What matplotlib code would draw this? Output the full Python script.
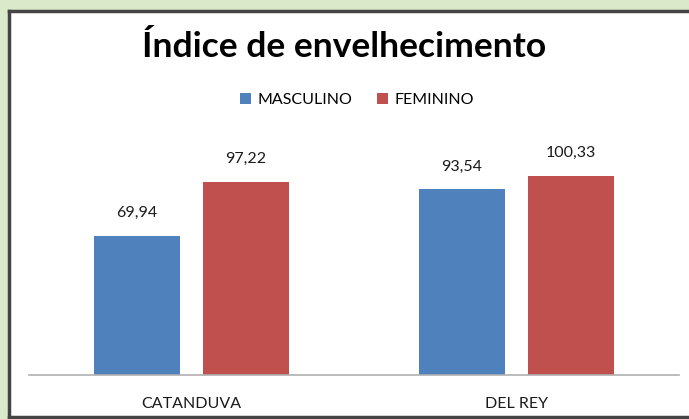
import matplotlib
matplotlib.use("Agg")
import matplotlib.pyplot as plt
from matplotlib.patches import Rectangle
from matplotlib.lines import Line2D

categories = ["CATANDUVA", "DEL REY"]
masculino = [69.94, 93.54]
feminino = [97.22, 100.33]
labels_m = ["69,94", "93,54"]
labels_f = ["97,22", "100,33"]
series_names = ["MASCULINO", "FEMININO"]

W, H = 689, 419
fig = plt.figure(figsize=(W/100, H/100), dpi=100)
fig.patch.set_facecolor("#d9e9c9")

# chart frame
fx0, fy_top, fy_bot = 9/W, 1-11/H, 2/H
frame = Rectangle((fx0, fy_bot), 1.0, fy_top-fy_bot, transform=fig.transFigure,
                  facecolor="white", edgecolor="none", zorder=-5)
fig.patches.append(frame)
for xs, ys in [([fx0, 1.0], [fy_top, fy_top]), ([fx0, fx0], [fy_bot, fy_top]),
               ([fx0, 1.0], [fy_bot, fy_bot])]:
    fig.lines.append(Line2D(xs, ys, transform=fig.transFigure, color="#444444",
                            linewidth=2.5, zorder=-4))

left, right, bottom, top = 29, 679, 375, 120
ax = fig.add_axes([left/W, 1-bottom/H, (right-left)/W, (bottom-top)/H])
ax.set_zorder(2)
ax.set_facecolor("none")
ymax = (bottom-top)/1.985
ax.set_ylim(0, ymax)
ax.set_xlim(-0.5, 1.5)

font = "Lato"
x = range(len(categories))
off, w = 0.168, 0.266
bm = ax.bar([i-off for i in x], masculino, w, color="#4f81bd", label=series_names[0])
bf = ax.bar([i+off for i in x], feminino, w, color="#c0504d", label=series_names[1])
for rect, t in zip(bm, labels_m):
    ax.text(rect.get_x()+rect.get_width()/2, rect.get_height()+8, t,
            ha="center", va="bottom", fontsize=11.5, family=font, color="#1a1a1a")
for rect, t in zip(bf, labels_f):
    ax.text(rect.get_x()+rect.get_width()/2, rect.get_height()+8, t,
            ha="center", va="bottom", fontsize=11.5, family=font, color="#1a1a1a")

ax.set_xticks(list(x))
ax.set_xticklabels(categories, fontsize=11.5, family=font, color="#1a1a1a")
ax.tick_params(axis="x", length=0, pad=16)
ax.set_yticks([])
for s in ["top", "right", "left"]:
    ax.spines[s].set_visible(False)
ax.spines["bottom"].set_color("#b0b0b0")
ax.spines["bottom"].set_linewidth(1.2)

fig.text(0.5, 1-47/H, "Índice de envelhecimento", ha="center", va="center",
         fontsize=25.5, fontweight="bold", family=font, color="black")
leg = fig.legend(loc="center", bbox_to_anchor=(357/W, 1-100/H), ncol=2, frameon=False,
                 prop={"family": font, "size": 11.5}, handlelength=0.7, handleheight=0.7,
                 columnspacing=1.5, handletextpad=0.4)

fig.savefig("out.png", dpi=100, facecolor=fig.get_facecolor())
